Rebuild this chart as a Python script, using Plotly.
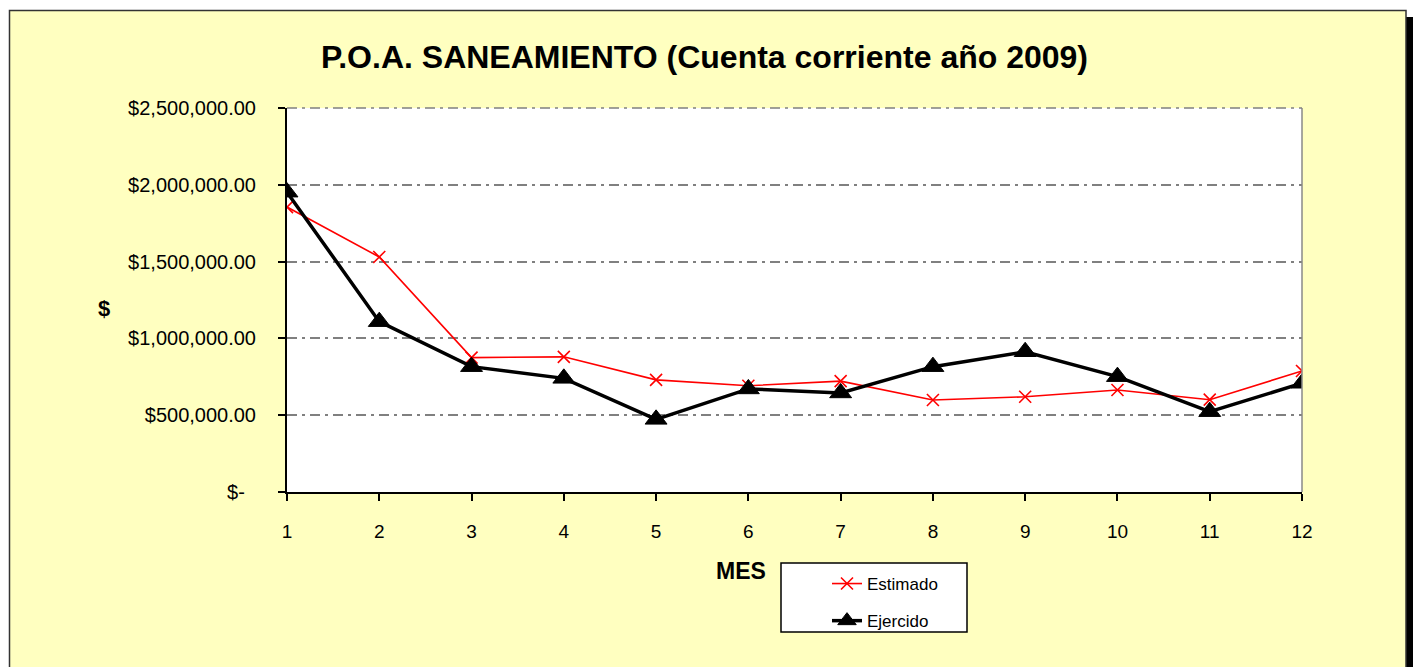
import plotly.graph_objects as go

# ---------------- data ----------------
months = list(range(1, 13))
estimado = [1855000, 1530000, 875000, 880000, 730000, 692000,
            722000, 599000, 620000, 664000, 601000, 788000]
ejercido = [1952000, 1109000, 816000, 740000, 473000, 671000,
            645000, 816000, 913000, 751000, 523000, 708000]
y_tickvals = [0, 500000, 1000000, 1500000, 2000000, 2500000]
y_ticktext = ["$-\u00a0\u00a0", "$500,000.00", "$1,000,000.00", "$1,500,000.00",
              "$2,000,000.00", "$2,500,000.00"]
title_text = "P.O.A. SANEAMIENTO (Cuenta corriente año 2009)"

# ---------------- layout geometry (page pixels) ----------------
W, H = 1418, 667
L, R, T, B = 287, 1302, 108, 492   # plot area in page pixels
PW, PH = R - L, B - T


def px(x):
    return (x - L) / PW


def py(y):
    return (B - y) / PH


FONT = "Arial, 'Liberation Sans', sans-serif"
YELLOW = "#FFFFC0"
DASH = "10px,5px,3px,5px"

fig = go.Figure()
fig.add_trace(go.Scatter(
    x=months, y=estimado, name="Estimado", mode="lines+markers",
    line=dict(color="#FF0000", width=1.6),
    marker=dict(symbol="x-thin", size=12, line=dict(color="#FF0000", width=1.6), color="#FF0000"),
    legendgroup="a",
))
fig.add_trace(go.Scatter(
    x=months, y=ejercido, name="Ejercido", mode="lines+markers",
    line=dict(color="#000000", width=3.5),
    marker=dict(symbol="triangle-up", size=19, color="#000000", line=dict(color="#000000", width=1)),
    legendgroup="b",
))

shapes = [
    # white strips outside the yellow frame
    dict(type="rect", xref="paper", yref="paper", x0=px(-5), x1=px(W + 5), y0=py(-5), y1=py(10),
         fillcolor="white", line=dict(width=0), layer="below"),
    dict(type="rect", xref="paper", yref="paper", x0=px(-5), x1=px(9), y0=py(-5), y1=py(H + 20),
         fillcolor="white", line=dict(width=0), layer="below"),
    dict(type="rect", xref="paper", yref="paper", x0=px(1406), x1=px(W + 5), y0=py(-5), y1=py(H + 20),
         fillcolor="white", line=dict(width=0), layer="below"),
    # shadow
    dict(type="rect", xref="paper", yref="paper", x0=px(1406), x1=px(1413), y0=py(17), y1=py(H + 20),
         fillcolor="black", line=dict(width=0), layer="below"),
    # frame border
    dict(type="rect", xref="paper", yref="paper", x0=px(9.5), x1=px(1406), y0=py(10.5), y1=py(H + 20),
         fillcolor="rgba(0,0,0,0)", line=dict(color="#333333", width=1.5), layer="below"),
    # right border of plot area
    dict(type="line", xref="paper", yref="paper", x0=1, x1=1, y0=0, y1=1,
         line=dict(color="#888888", width=1.5), layer="above"),
    # top border of plot area (dash-dot like the grid)
    dict(type="line", xref="paper", yref="paper", x0=0, x1=1, y0=1, y1=1,
         line=dict(color="#808080", width=1.5, dash=DASH), layer="above"),
    # legend box
    dict(type="rect", xref="paper", yref="paper", x0=px(781), x1=px(967), y0=py(563), y1=py(632),
         fillcolor="white", line=dict(color="black", width=1.5), layer="below"),
]

annotations = [
    dict(text="<b>" + title_text + "</b>", xref="paper", yref="paper",
         x=px(704.5), y=py(57), xanchor="center", yanchor="middle", showarrow=False,
         font=dict(family=FONT, size=32, color="black")),
    dict(text="<b>$</b>", xref="paper", yref="paper", x=px(104), y=py(308),
         xanchor="center", yanchor="middle", showarrow=False,
         font=dict(family=FONT, size=22, color="black")),
    dict(text="<b>MES</b>", xref="paper", yref="paper", x=px(741), y=py(571),
         xanchor="center", yanchor="middle", showarrow=False,
         font=dict(family=FONT, size=23, color="black")),
]

fig.update_layout(
    width=W, height=H,
    margin=dict(l=L, r=W - R, t=T, b=H - B, pad=0),
    paper_bgcolor=YELLOW, plot_bgcolor="white",
    font=dict(family=FONT, size=18, color="black"),
    showlegend=True,
    legend=dict(
        x=px(827), y=py(566), xanchor="left", yanchor="top",
        bgcolor="rgba(0,0,0,0)", borderwidth=0,
        font=dict(family=FONT, size=17, color="black"),
        traceorder="grouped", tracegroupgap=12,
    ),
    shapes=shapes,
    annotations=annotations,
)

fig.update_xaxes(
    range=[1, 12], tickmode="array", tickvals=months, ticktext=[str(m) for m in months],
    showgrid=False, zeroline=False, showline=True, linecolor="black", linewidth=2,
    ticks="outside", ticklen=7, tickcolor="black", tickwidth=1.5,
    ticklabelstandoff=14, tickfont=dict(family=FONT, size=19, color="black"),
)
fig.update_yaxes(
    range=[0, 2500000], tickmode="array", tickvals=y_tickvals, ticktext=y_ticktext,
    showgrid=True, gridcolor="#808080", gridwidth=1.5, griddash=DASH,
    zeroline=False, showline=True, linecolor="black", linewidth=2,
    ticks="outside", ticklen=7, tickcolor="black", tickwidth=1.5,
    ticklabelstandoff=18, tickfont=dict(family=FONT, size=20, color="black"),
)

fig.write_html(
    "out.html",
    config={"displayModeBar": False},
    post_script="document.body.style.margin='0';document.body.style.overflow='hidden';",
)
